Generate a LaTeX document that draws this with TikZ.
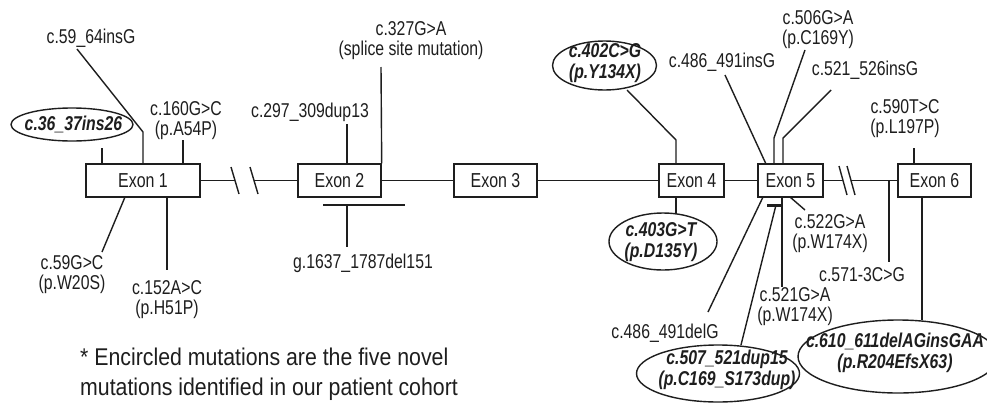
\documentclass[tikz,border=0pt]{standalone}
\usepackage{fontspec}
\setmainfont{Liberation Sans}
\newfontfamily\labfont[FakeStretch=0.79]{Liberation Sans}
\newfontfamily\notefont[FakeStretch=0.88]{Liberation Sans}
\usetikzlibrary{shapes.geometric}
\definecolor{ink}{HTML}{1E1E1E}
\begin{document}
\begin{tikzpicture}[x=1pt,y=-1pt,
  wire/.style={draw=ink,line width=1.4pt},
  thickbar/.style={draw=ink,line width=3pt},
  exonbox/.style={draw=ink,line width=1.4pt,minimum height=33pt,inner sep=0pt,font=\labfont\fontsize{20.2}{18}\selectfont,text=ink},
  lab/.style={font=\labfont\fontsize{20}{20}\selectfont,text=ink,align=center,inner sep=0pt},
  novel/.style={ellipse,draw=ink,line width=1.4pt,inner sep=0pt},
  novtext/.style={font=\labfont\bfseries\itshape\fontsize{20}{20.5}\selectfont,text=ink,align=center,inner sep=0pt},
  note/.style={font=\notefont\fontsize{24.2}{28}\selectfont,text=ink,anchor=base west,inner sep=0pt}]
\fill[white] (0,0) rectangle (987,402);
\useasboundingbox (0,0) rectangle (987,402);
\clip (0,0) rectangle (987,402);

% exons
\node[exonbox,minimum width=114pt] (e1) at (143,180.5) {Exon 1};
\node[exonbox,minimum width=83pt] (e2) at (339.5,180.5) {Exon 2};
\node[exonbox,minimum width=83pt] (e3) at (495.5,180.5) {Exon 3};
\node[exonbox,minimum width=65pt] (e4) at (691.5,180.5) {Exon 4};
\node[exonbox,minimum width=65pt] (e5) at (790.5,180.5) {Exon 5};
\node[exonbox,minimum width=73pt] (e6) at (934.5,180.5) {Exon 6};

% backbone with breaks
\coordinate (b1a) at (235,180.5);
\coordinate (b1b) at (254,180.5);
\coordinate (b2a) at (843,180.5);
\coordinate (b2b) at (851,180.5);
\draw[wire] (e1.east) -- (b1a);
\draw[wire] (b1b) -- (e2.west);
\draw[wire] (231,167) -- (239,194);
\draw[wire] (250,167) -- (258,194);
\draw[wire] (e2.east) -- (e3.west);
\draw[wire] (e3.east) -- (e4.west);
\draw[wire] (e4.east) -- (e5.west);
\draw[wire] (e5.east) -- (b2a);
\draw[wire] (b2b) -- (e6.west);
\draw[wire] (839,166) -- (847,195);
\draw[wire] (847,166) -- (855,195);

% labels
\node[lab] (l1) at (91,38) {c.59\_64insG};
\node[novel,minimum width=122pt,minimum height=33pt] (n1) at (72,124.5) {};
\node[novtext] (t1) at (73.5,124.5) {c.36\_37ins26};
\node[lab] (l2) at (186,121) {c.160G>C\\(p.A54P)};
\node[lab] (l3) at (72,275) {c.59G>C\\(p.W20S)};
\node[lab] (l4) at (167,300) {c.152A>C\\(p.H51P)};
\node[lab] (l5) at (310,112) {c.297\_309dup13};
\node[lab] (l6) at (411,41) {c.327G>A\\(splice site mutation)};
\node[lab] (l7) at (363,263) {g.1637\_1787del151};
\node[novel,minimum width=104pt,minimum height=49pt] (n2) at (604.5,65.5) {};
\node[novtext] (t2) at (605,63) {c.402C>G\\(p.Y134X)};
\node[novel,minimum width=108pt,minimum height=57pt] (n3) at (663,241.5) {};
\node[novtext] (t3) at (661,242) {c.403G>T\\(p.D135Y)};
\node[lab] (l8) at (722,62) {c.486\_491insG};
\node[lab] (l9) at (818,30) {c.506G>A\\(p.C169Y)};
\node[lab] (l10) at (865,70) {c.521\_526insG};
\node[lab] (l11) at (905,119) {c.590T>C\\(p.L197P)};
\node[lab] (l12) at (665,333) {c.486\_491delG};
\node[novel,minimum width=163pt,minimum height=57pt] (n4) at (718,373.5) {};
\node[novtext] (t4) at (727,370) {c.507\_521dup15\\(p.C169\_S173dup)};
\node[lab] (l13) at (795,307) {c.521G>A\\(p.W174X)};
\node[lab] (l14) at (830,234) {c.522G>A\\(p.W174X)};
\node[lab] (l15) at (862,275) {c.571-3C>G};
\node[novel,minimum width=200pt,minimum height=73pt] (n5) at (898,356.5) {};
\node[novtext] (t5) at (895,353) {c.610\_611delAGinsGAA\\(p.R204EfsX63)};

% connectors
\coordinate (p1) at (77,49);
\coordinate (p1k) at (143,132);
\draw[wire] (p1) -- (p1k) -- (e1.north);
\coordinate (p2) at (102,148);
\draw[wire] (p2) -- (p2 |- e1.north);
\coordinate (p3) at (183,140);
\draw[wire] (p3) -- (p3 |- e1.north);
\coordinate (p4a) at (125,197);
\coordinate (p4) at (102,252);
\draw[wire] (p4a) -- (p4);
\coordinate (p5a) at (167,197);
\coordinate (p5) at (167,270);
\draw[wire] (p5a) -- (p5);
\coordinate (p6) at (347,124);
\draw[wire] (p6) -- (p6 |- e2.north);
\coordinate (p7) at (381,67);
\draw[wire] (p7) -- (e2.north east);
\coordinate (bar1a) at (323,205);
\coordinate (bar1b) at (405,205);
\coordinate (bar1m) at (347,205);
\coordinate (p8) at (347,247);
\draw[wire] (bar1a) -- (bar1b);
\draw[wire] (bar1m) -- (p8);
\coordinate (p9) at (627,90);
\coordinate (p9k) at (676,140);
\draw[wire] (p9) -- (p9k) -- (p9k |- e4.north);
\coordinate (p10) at (676,214);
\draw[wire] (p10 |- e4.south) -- (p10);
\coordinate (p11) at (725,75);
\coordinate (p11e) at (766,164);
\draw[wire] (p11) -- (p11e);
\coordinate (p12) at (805,50);
\coordinate (p12k) at (774,138);
\draw[wire] (p12) -- (p12k) -- (p12k |- e5.north);
\coordinate (p13) at (831,90);
\coordinate (p13k) at (783,138);
\draw[wire] (p13) -- (p13k) -- (p13k |- e5.north);
\coordinate (bar2a) at (767,205);
\coordinate (bar2b) at (781,205);
\draw[thickbar] (bar2a) -- (bar2b);
\coordinate (p14a) at (763,197);
\coordinate (p14) at (708,312);
\draw[wire] (p14a) -- (p14);
\coordinate (p15a) at (776,205);
\coordinate (p15) at (741,345);
\draw[wire] (p15a) -- (p15);
\coordinate (p16a) at (782,197);
\coordinate (p16) at (782,287);
\draw[wire] (p16a) -- (p16);
\coordinate (p17a) at (790,197);
\coordinate (p17) at (805,210);
\draw[wire] (p17a) -- (p17);
\coordinate (p18a) at (889,180.5);
\coordinate (p18) at (889,262);
\draw[wire] (p18a) -- (p18);
\coordinate (p19) at (914,148);
\draw[wire] (p19) -- (p19 |- e6.north);
\coordinate (p20a) at (922,197);
\coordinate (p20) at (922,320);
\draw[wire] (p20a) -- (p20);

% footnote
\node[note] (f1) at (80,365) {* Encircled mutations are the five novel};
\node[note] (f2) at (80,395) {mutations identified in our patient cohort};
\end{tikzpicture}
\end{document}
